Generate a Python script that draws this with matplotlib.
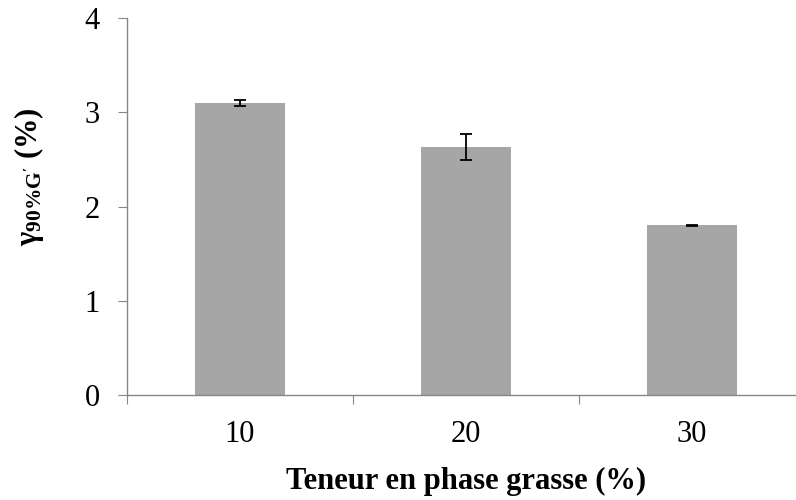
import matplotlib.pyplot as plt
import numpy as np

# Data
categories = ['10', '20', '30']
values = [3.10, 2.63, 1.80]
errors = [0.035, 0.14, 0.005]

plt.rcParams['font.family'] = ['Liberation Serif', 'DejaVu Serif']
plt.rcParams['mathtext.fontset'] = 'custom'
plt.rcParams['mathtext.rm'] = 'Liberation Serif'
plt.rcParams['mathtext.bf'] = 'Liberation Serif:bold'

fig = plt.figure(figsize=(7.96, 5.0), dpi=100)
ax = fig.add_axes([127 / 796, 105 / 500, 3 * 226 / 796, 377 / 500])

x = np.arange(len(categories)) + 0.5
ax.bar(x, values, width=0.4, color='#a6a6a6', zorder=2)
ax.errorbar(x, values, yerr=errors, fmt='none', ecolor='black',
            elinewidth=1.3, capsize=4.5, capthick=1.3, zorder=3)

ax.set_xlim(0, 3)
ax.set_ylim(0, 4)
ax.set_yticks([0, 1, 2, 3, 4])
ax.set_xticks([0, 1, 2, 3])
ax.set_xticklabels([])
ax.set_xticks(x, minor=True)
ax.set_xticklabels(categories, minor=True)

spine_color = '#868686'
for side in ['top', 'right']:
    ax.spines[side].set_visible(False)
for side in ['left', 'bottom']:
    ax.spines[side].set_color(spine_color)
    ax.spines[side].set_linewidth(1.0)

ax.tick_params(axis='both', which='major', direction='out', length=6.5,
               color=spine_color, labelsize=22)
ax.tick_params(axis='x', which='minor', length=0, labelsize=22, pad=18)
ax.tick_params(axis='y', which='major', pad=13)

ax.set_xlabel('Teneur en phase grasse (%)', fontsize=22, fontweight='bold',
              labelpad=13)
ax.set_ylabel(r"$\mathbf{γ_{90\%G'}}$ (%)", fontsize=22, fontweight='bold')
ax.yaxis.set_label_coords(-0.119, 0.58)

fig.savefig('out.png', dpi=100)
